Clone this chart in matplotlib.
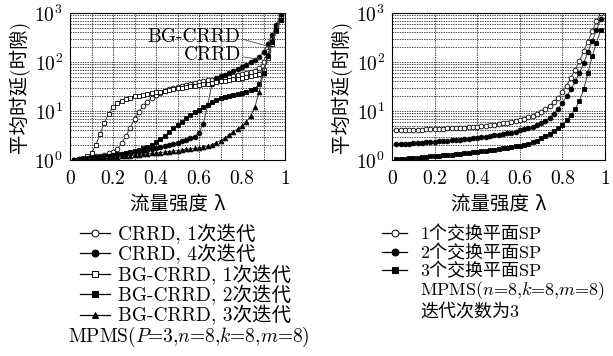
import matplotlib
matplotlib.use('Agg')
import matplotlib.pyplot as plt
from matplotlib.lines import Line2D
from matplotlib.ticker import LogLocator, MultipleLocator, NullFormatter

plt.rcParams['font.family'] = ['cmr10', 'Noto Sans CJK SC']
plt.rcParams['mathtext.fontset'] = 'cm'
plt.rcParams['axes.formatter.use_mathtext'] = True
plt.rcParams['font.size'] = 14
plt.rcParams['axes.unicode_minus'] = False

# load values (traffic intensity)
lam = [0.02, 0.04, 0.06, 0.08, 0.10, 0.12, 0.14, 0.16, 0.18, 0.20,
       0.22, 0.24, 0.26, 0.28, 0.30, 0.32, 0.34, 0.36, 0.38, 0.40,
       0.42, 0.44, 0.46, 0.48, 0.50, 0.52, 0.54, 0.56, 0.58, 0.60,
       0.62, 0.64, 0.66, 0.68, 0.70, 0.72, 0.74, 0.76, 0.78, 0.80,
       0.82, 0.84, 0.86, 0.88, 0.90, 0.92, 0.94, 0.96, 0.98]

# left panel
crrd_1 = [1.02, 1.04, 1.07, 1.10, 1.14, 1.18, 1.23, 1.29, 1.37, 1.48,
          1.7, 2.2, 3.1, 4.6, 6.8, 9.5, 12.5, 15.5, 18.5, 21,
          23.5, 25.5, 27.5, 29.5, 31.5, 33, 34.5, 36, 37.5, 39,
          40.5, 42, 43.5, 45, 47, 49, 51, 53, 55, 57.5,
          60, 63, 67, 74, 100, 170, 300, 520, 880]
crrd_4 = [1.02, 1.04, 1.06, 1.08, 1.1, 1.12, 1.15, 1.18, 1.21, 1.25,
          1.29, 1.33, 1.37, 1.41, 1.46, 1.51, 1.56, 1.62, 1.68, 1.75,
          1.83, 1.92, 2.02, 2.13, 2.25, 2.4, 2.55, 2.75, 3.0, 3.6,
          5.5, 13, 35, 48, 51, 55, 60, 66, 72, 79,
          88, 98, 110, 128, 160, 230, 360, 580, 950]
bg_1 = [1.02, 1.05, 1.09, 1.18, 1.4, 2.0, 3.4, 5.8, 8.8, 11.8,
        14.5, 16.2, 17.6, 18.8, 19.8, 20.6, 21.4, 22.2, 23, 24,
        25, 26, 27, 28, 29, 30, 31, 32, 33, 34,
        35, 36, 37.2, 38.5, 40, 41.5, 43, 44.5, 46, 48,
        50, 52, 54.5, 58, 70, 120, 230, 430, 720]
bg_2 = [1.02, 1.04, 1.06, 1.08, 1.1, 1.13, 1.16, 1.19, 1.22, 1.26,
        1.3, 1.34, 1.39, 1.45, 1.52, 1.6, 1.72, 1.88, 2.05, 2.3,
        2.65, 3.1, 3.7, 4.4, 5.2, 6.1, 7.1, 8.2, 9.4, 10.6,
        12, 13.5, 15, 16.5, 18, 19.3, 20.5, 21.5, 22.5, 23.5,
        25, 26.5, 28.5, 36, 60, 130, 260, 460, 720]
bg_3 = [1.0, 1.02, 1.04, 1.05, 1.07, 1.08, 1.1, 1.12, 1.13, 1.15,
        1.17, 1.19, 1.21, 1.23, 1.25, 1.28, 1.3, 1.33, 1.36, 1.39,
        1.42, 1.45, 1.49, 1.52, 1.56, 1.6, 1.64, 1.68, 1.73, 1.78,
        1.84, 1.92, 2.05, 2.25, 2.5, 2.8, 3.3, 3.8, 4.3, 5.0,
        6.0, 8.0, 12, 25, 60, 140, 280, 480, 740]

# right panel
sp_1 = [4.0, 4.02, 4.05, 4.07, 4.1, 4.13, 4.16, 4.2, 4.23, 4.27,
        4.31, 4.35, 4.4, 4.45, 4.5, 4.55, 4.6, 4.66, 4.72, 4.8,
        4.9, 5.0, 5.15, 5.3, 5.45, 5.6, 5.8, 6.0, 6.3, 6.6,
        7.0, 7.4, 7.9, 8.6, 9.6, 10.8, 12.5, 15, 18.5, 24,
        33, 48, 70, 105, 165, 260, 420, 680, 1000]
sp_2 = [2.1, 2.12, 2.14, 2.16, 2.19, 2.22, 2.25, 2.28, 2.31, 2.35,
        2.39, 2.43, 2.47, 2.51, 2.56, 2.61, 2.66, 2.72, 2.78, 2.85,
        2.92, 3.0, 3.08, 3.17, 3.27, 3.38, 3.5, 3.64, 3.8, 4.0,
        4.2, 4.45, 4.75, 5.1, 5.6, 6.3, 7.3, 8.8, 11, 14.5,
        20, 28, 40, 60, 95, 160, 270, 450, 750]
sp_3 = [1.05, 1.06, 1.07, 1.09, 1.1, 1.12, 1.14, 1.16, 1.18, 1.2,
        1.22, 1.24, 1.26, 1.28, 1.31, 1.34, 1.37, 1.4, 1.43, 1.47,
        1.51, 1.55, 1.59, 1.63, 1.68, 1.73, 1.78, 1.84, 1.9, 1.97,
        2.05, 2.15, 2.3, 2.5, 2.75, 3.05, 3.4, 3.85, 4.4, 5.2,
        6.4, 8.2, 11, 16, 28, 60, 130, 250, 450]

xticks = [0, 0.2, 0.4, 0.6, 0.8, 1]
xtick_labels = ['0', '0.2', '0.4', '0.6', '0.8', '1']

left_labels = ['CRRD, 1次迭代', 'CRRD, 4次迭代', 'BG-CRRD, 1次迭代',
               'BG-CRRD, 2次迭代', 'BG-CRRD, 3次迭代']
right_labels = ['1个交换平面SP', '2个交换平面SP', '3个交换平面SP']
right_notes = ['MPMS($n$=8,$k$=8,$m$=8)', '迭代次数为3']

W, H = 613, 356
fig = plt.figure(figsize=(6.13, 3.56), dpi=100)
ax1 = fig.add_axes([70/W, 1-160/H, 215/W, 147/H])
ax2 = fig.add_axes([392/W, 1-160/H, 213/W, 147/H])


def style(ax, minor_x):
    ax.set_yscale('log')
    ax.set_xlim(0, 1)
    ax.set_ylim(1, 1000)
    ax.set_xticks(xticks)
    ax.set_xticklabels(xtick_labels)
    ax.yaxis.set_major_locator(LogLocator(base=10))
    ax.yaxis.set_minor_locator(LogLocator(base=10, subs=range(2, 10)))
    ax.yaxis.set_minor_formatter(NullFormatter())
    if minor_x:
        ax.xaxis.set_minor_locator(MultipleLocator(0.1))
    ax.grid(True, which='both', color='k', ls=(0, (2, 1.5)), lw=0.5)
    ax.tick_params(which='both', direction='in', length=0)
    ax.tick_params(axis='x', pad=7)
    ax.tick_params(axis='y', pad=5)
    for s in ax.spines.values():
        s.set_linewidth(0.8)
    ax.set_xlabel('流量强度 λ', labelpad=6)
    ax.set_ylabel('平均时延(时隙)', labelpad=3)


line_kw = dict(color='0.25', lw=0.7, ms=3.4, mec='k', mew=0.6)
left_styles = [dict(marker='o', mfc='white'), dict(marker='o', mfc='k'),
               dict(marker='s', mfc='white'), dict(marker='s', mfc='k'),
               dict(marker='^', mfc='k')]
right_styles = [dict(marker='o', mfc='white'), dict(marker='o', mfc='k'),
                dict(marker='s', mfc='k')]

for ys, st in zip([crrd_1, crrd_4, bg_1, bg_2, bg_3], left_styles):
    ax1.plot(lam, ys, **st, **line_kw)
style(ax1, True)

ax1.annotate('BG-CRRD', xy=(0.922, 208), xytext=(0.79, 330), ha='right', va='center',
             arrowprops=dict(arrowstyle='-', lw=0.6, color='0.3', relpos=(1, 0.4),
                             shrinkA=0, shrinkB=0))
ax1.annotate('CRRD', xy=(0.899, 110), xytext=(0.795, 140), ha='right', va='center',
             arrowprops=dict(arrowstyle='-', lw=0.6, color='0.3', relpos=(1, 0.4),
                             shrinkA=0, shrinkB=0))

for ys, st in zip([sp_1, sp_2, sp_3], right_styles):
    ax2.plot(lam, ys, **st, **line_kw)
style(ax2, False)


def legend_row(x0, x1, xt, y, label, st, fs):
    # y is the row centre in pixels from the top; text placed on its baseline
    yf = 1 - y / H
    if st is not None:
        xm = (x0 + x1) / 2
        h = Line2D([x0/W, xm/W, x1/W], [yf, yf, yf], transform=fig.transFigure,
                   markevery=[1], color='k', lw=0.9, ms=5, mec='k', mew=0.7, **st)
        fig.add_artist(h)
    base = 1 - (y + 0.36 * fs * 100 / 72) / H
    fig.text(xt/W, base, label, ha='left', va='baseline', fontsize=fs)


# hand-placed legends
for i, (lab, st) in enumerate(zip(left_labels, left_styles)):
    legend_row(80, 110, 118, 233 + i * 20.4, lab, st, 14)
fig.text(68/W, 1-(335 + 7)/H, 'MPMS($P$=3,$n$=8,$k$=8,$m$=8)', ha='left', va='baseline',
         fontsize=14)

right_rows = [233, 251.5, 270, 288.5, 310]
for y, lab, st in zip(right_rows, right_labels + right_notes, right_styles + [None, None]):
    legend_row(382, 407, 420, y, lab, st, 13)

fig.savefig('out.png', dpi=100)
